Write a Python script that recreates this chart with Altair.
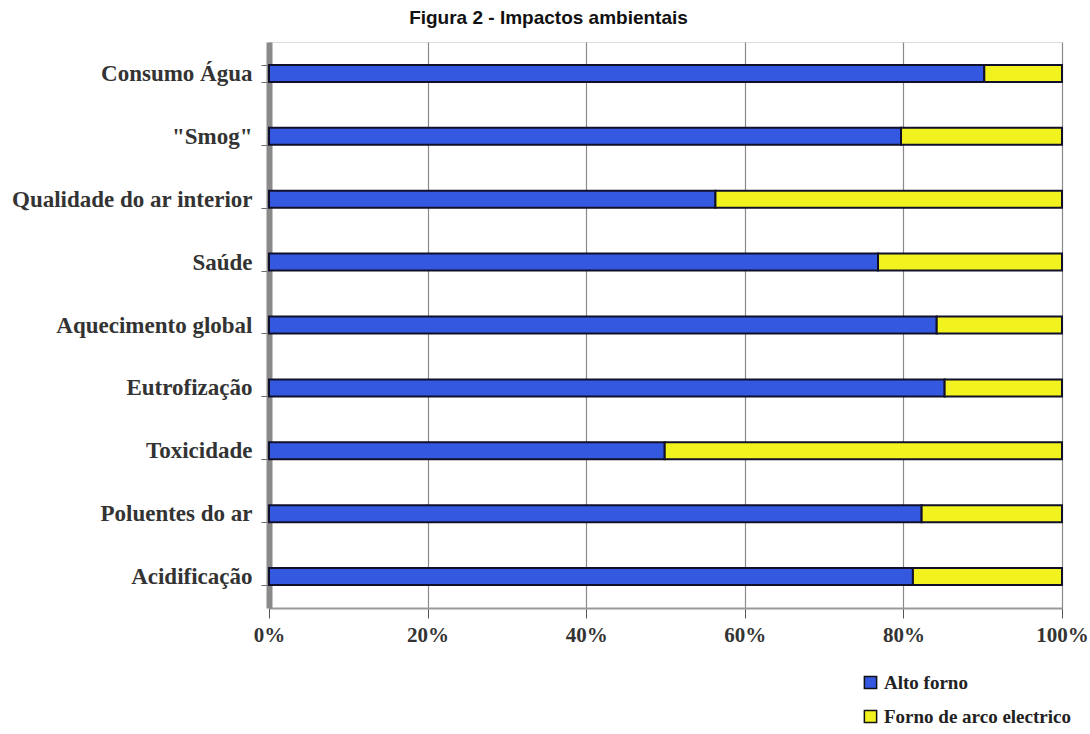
import altair as alt
import pandas as pd

categories = ["Consumo Água", "\"Smog\"", "Qualidade do ar interior", "Saúde",
              "Aquecimento global", "Eutrofização", "Toxicidade",
              "Poluentes do ar", "Acidificação"]
alto_forno = [90.2, 79.7, 56.3, 76.8, 84.2, 85.2, 49.9, 82.3, 81.2]
forno_arco = [round(100 - v, 1) for v in alto_forno]
series = ["Alto forno", "Forno de arco electrico"]
colors = ["#3558e0", "#f2f21e"]

rows = []
for c, a, f in zip(categories, alto_forno, forno_arco):
    rows.append({"cat": c, "serie": series[0], "val": a, "ord": 0})
    rows.append({"cat": c, "serie": series[1], "val": f, "ord": 1})
df = pd.DataFrame(rows)

serif = "Liberation Serif"
W, H = 793, 566

yscale = alt.Scale(domain=categories, paddingInner=0.73, paddingOuter=0.365)

bars = alt.Chart(df).mark_bar(stroke="#10102a", strokeWidth=2).encode(
    x=alt.X("val:Q", stack="normalize",
            scale=alt.Scale(domain=[0, 1], nice=False),
            axis=alt.Axis(format="%", values=[0, 0.2, 0.4, 0.6, 0.8, 1.0],
                          title=None, grid=True, gridColor="#8a8a8a",
                          gridWidth=1.2, domainColor="#9a9a9a", domainWidth=2,
                          tickColor="#555", tickSize=10, labelFont=serif,
                          labelFontSize=21, labelFontWeight="bold",
                          labelColor="#333", labelPadding=6,
                          labelFlush=False)),
    y=alt.Y("cat:N", sort=categories, scale=yscale,
            axis=alt.Axis(title=None, labelFont=serif, labelFontSize=23,
                          labelFontWeight="bold", labelColor="#333",
                          domainColor="#8a8a8a", domainWidth=6,
                          tickColor="#666", tickSize=8, tickBand="extent",
                          labelPadding=9, grid=False, labelLimit=400)),
    color=alt.Color("serie:N", sort=series,
                    scale=alt.Scale(domain=series, range=colors),
                    legend=alt.Legend(title=None, orient="none",
                                      legendX=592, legendY=631,
                                      symbolType="square", symbolSize=150,
                                      symbolStrokeColor="#111",
                                      symbolStrokeWidth=1.5,
                                      labelFont=serif, labelFontSize=19,
                                      labelFontWeight="bold",
                                      labelColor="#222", rowPadding=14,
                                      labelOffset=4, labelLimit=400)),
    order=alt.Order("ord:Q"),
)

chart = bars.properties(
    width=W, height=H,
    title=alt.TitleParams("Figura 2 - Impactos ambientais",
                          font="Liberation Sans", fontSize=19,
                          fontWeight="bold", color="#111",
                          anchor="middle", dx=-117, offset=3),
    autosize=alt.AutoSizeParams(type="none"),
    padding={"left": 269, "top": 42, "right": 28, "bottom": 126},
).configure_view(stroke=None).configure(background="white")

chart.save("out.html", embed_options={"renderer": "svg", "actions": False})
